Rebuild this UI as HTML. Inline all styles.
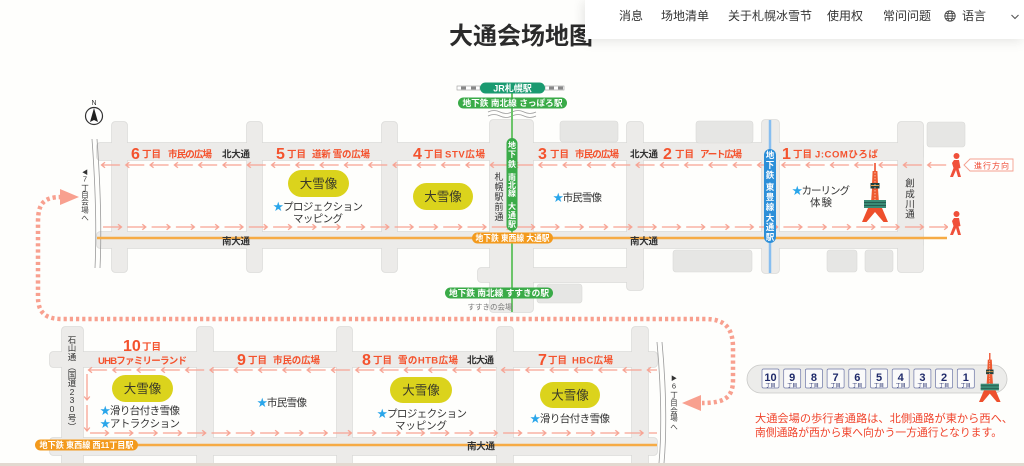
<!DOCTYPE html>
<html><head><meta charset="utf-8"><title>大通会场地图</title>
<style>
html,body{margin:0;padding:0}
body{width:1024px;height:466px;overflow:hidden;background:#fefefc;position:relative;font-family:"Liberation Sans","Noto Sans CJK JP",sans-serif}
svg{position:absolute;left:0;top:0}
#title{position:absolute;left:449px;top:21px;width:150px;height:34px;overflow:hidden;white-space:nowrap;font-size:24px;line-height:32px;font-weight:bold;color:#2b2b2b;font-family:"Liberation Sans","Noto Sans CJK SC",sans-serif}
#nav{position:absolute;left:585px;top:0;width:439px;height:39px;background:#fff;box-shadow:0 4px 12px rgba(0,0,0,.06),-4px 0 10px rgba(0,0,0,.05)}
#nav span{position:absolute;top:9px;font-size:12px;line-height:14px;color:#333;white-space:nowrap;font-family:"Liberation Sans","Noto Sans CJK SC",sans-serif}
.n{font-size:16px;fill:#f4522d;font-weight:bold}
.s{font-size:9.5px;fill:#f4522d;font-weight:bold}
.k{font-size:9.5px;fill:#333;font-weight:bold}
.d{font-size:10.5px;fill:#333}
.st{fill:#2aa6ea}
.w{fill:#fff;font-weight:bold}
.y{font-size:12.5px;fill:#3a3a2a}
</style></head><body>
<svg width="1024" height="466" viewBox="0 0 1024 466" font-family="'Liberation Sans','Noto Sans CJK JP',sans-serif">
<defs>
<pattern id="pl" width="24.3" height="8" patternUnits="userSpaceOnUse"><path d="M1.5 4H20M5 1.2L1.5 4L5 6.8" fill="none" stroke="#f7a393" stroke-width="1.3"/></pattern>
<pattern id="pr" width="24.3" height="8" patternUnits="userSpaceOnUse"><path d="M3 4H21.5M18 1.2L21.5 4L18 6.8" fill="none" stroke="#f7a393" stroke-width="1.3"/></pattern>
<pattern id="pd" width="8" height="31" patternUnits="userSpaceOnUse"><path d="M4 2V28M1.2 24.5L4 28L6.8 24.5" fill="none" stroke="#f7a393" stroke-width="1.3"/></pattern>
<g id="su">
<rect x="97" y="143" width="826" height="17" rx="3"/>
<rect x="97" y="232" width="826" height="16" rx="3"/>
<rect x="112" y="122" width="15" height="150" rx="3"/>
<rect x="247" y="122" width="15" height="150" rx="3"/>
<rect x="382" y="122" width="15" height="150" rx="3"/>
<rect x="490" y="120" width="43" height="192" rx="3"/>
<rect x="627" y="122" width="16" height="168" rx="3"/>
<rect x="762" y="120" width="17" height="153" rx="3"/>
<rect x="898" y="122" width="25" height="150" rx="3"/>
<rect x="478" y="268" width="165" height="14" rx="3"/>
</g>
<g id="sl">
<rect x="50" y="352" width="607" height="15" rx="3"/>
<rect x="50" y="438" width="607" height="17" rx="3"/>
<rect x="62" y="327" width="21" height="145" rx="3"/>
<rect x="197" y="327" width="16" height="145" rx="3"/>
<rect x="337" y="327" width="15" height="145" rx="3"/>
<rect x="497" y="327" width="16" height="145" rx="3"/>
<rect x="632" y="327" width="16" height="145" rx="3"/>
</g>
<g id="tw">
<line x1="13" y1="0" x2="13" y2="9" stroke="#ee4f2c" stroke-width="1.6"/>
<path d="M10.6 8H15.4L16 21H10Z" fill="#ee5a30"/>
<rect x="8.5" y="20" width="9" height="5.5" fill="#22403c"/>
<rect x="9" y="22" width="8" height="1" fill="#e9a34a"/>
<path d="M10 25.5H16L16.8 37H9.2Z" fill="#ee5a30"/>
<path d="M13 9V37" stroke="#fff" stroke-width="0.6" stroke-dasharray="1.5 1.5"/>
<rect x="2" y="37" width="22" height="8" fill="#3a8b75"/>
<path d="M2 39.5H24M2 42.5H24" stroke="#1f4f45" stroke-width="0.8"/>
<path d="M6 45H20L26 59H21.5L13 49L4.5 59H0Z" fill="#ee4f2c"/>
</g>
<g id="wk" fill="#f0503a">
<circle cx="6.5" cy="3" r="3"/>
<path d="M4 7H9L10.5 15L8.5 15.5L11 24H8L6 17L3 24H0L3.5 15L2 10Z"/>
</g>
</defs>

<!-- streets -->
<use href="#su" fill="#d9d9d7" stroke="#d9d9d7" stroke-width="1.5"/>
<use href="#su" fill="#ecebe9"/>
<use href="#sl" fill="#d9d9d7" stroke="#d9d9d7" stroke-width="1.5"/>
<use href="#sl" fill="#ecebe9"/>

<!-- buildings -->
<g fill="#e6e6e4" stroke="#d9d9d7" stroke-width="0.6">
<rect x="560" y="121" width="58" height="21" rx="3"/>
<rect x="696" y="121" width="57" height="22" rx="3"/>
<rect x="927" y="122" width="38" height="25" rx="3"/>
<rect x="673" y="250" width="79" height="22" rx="3"/>
<rect x="827" y="250" width="30" height="22" rx="3"/>
<rect x="865" y="250" width="28" height="22" rx="3"/>
<rect x="537" y="284" width="45" height="19" rx="3"/>
</g>

<!-- boundary lines -->
<g fill="none" stroke="#9a9a9a" stroke-width="0.8">
<path d="M92 139C95 180 97 225 95 268"/>
<path d="M97 139C100 180 102 225 100 268"/>
<path d="M657 342C661 385 662 430 659 463"/>
<path d="M662 342C666 385 667 430 664 463"/>
<path d="M488 112q6-3 12 0t12 0t12 0t12 0"/>
<path d="M488 116q6-3 12 0t12 0t12 0t12 0"/>
</g>

<!-- transit lines -->
<line x1="97" y1="238" x2="947" y2="238" stroke="#f6ab45" stroke-width="2.5"/>
<line x1="138" y1="445" x2="657" y2="445" stroke="#f6ab45" stroke-width="2.5"/>
<line x1="512" y1="93" x2="512" y2="312" stroke="#6cc46a" stroke-width="2"/>
<line x1="770" y1="120" x2="770" y2="273" stroke="#86bdf0" stroke-width="2.5"/>

<!-- rail icon -->
<g>
<rect x="457" y="86" width="23" height="4" fill="#fff" stroke="#9a9a9a" stroke-width="0.6"/>
<rect x="461" y="86.5" width="5" height="3" fill="#888"/><rect x="471" y="86.5" width="5" height="3" fill="#888"/>
<rect x="545" y="86" width="19" height="4" fill="#fff" stroke="#9a9a9a" stroke-width="0.6"/>
<rect x="549" y="86.5" width="5" height="3" fill="#888"/><rect x="558" y="86.5" width="5" height="3" fill="#888"/>
</g>

<!-- flow arrows -->
<rect x="0" y="0" width="848" height="8" fill="url(#pl)" transform="translate(100,161)"/>
<rect x="0" y="0" width="848" height="8" fill="url(#pr)" transform="translate(100,223)"/>
<rect x="0" y="0" width="570" height="8" fill="url(#pl)" transform="translate(87,366)"/>
<rect x="0" y="0" width="570" height="8" fill="url(#pr)" transform="translate(87,429)"/>
<rect x="0" y="0" width="8" height="62" fill="url(#pd)" transform="translate(83,372)"/>

<!-- dotted connector -->
<path d="M62 197C44 197 38 203 38 222L38 297C38 313 46 319 62 319L705 319C725 319 733 328 733 348L733 380C733 398 724 403 702 403" fill="none" stroke="#f8a08f" stroke-width="4.5" stroke-dasharray="3.2 3"/>
<polygon points="60,189 79,197 60,205" fill="#f8a08f"/>
<polygon points="701,395 682,403 701,411" fill="#f8a08f"/>

<!-- compass -->
<circle cx="94" cy="116" r="8.5" fill="#fff" stroke="#333" stroke-width="1.2"/>
<path d="M94 108L98 122L94 120L90 122Z" fill="#222"/>
<text x="94" y="105" font-size="7" text-anchor="middle" fill="#333">N</text>

<!-- subway pills -->
<rect x="480" y="82.5" width="65" height="11" rx="5.5" fill="#1a9a70"/>
<text x="512.5" y="91.3" text-anchor="middle" class="w" font-size="9">JR札幌駅</text>
<rect x="458" y="97.5" width="109" height="11" rx="5.5" fill="#3aab48"/>
<text x="512.5" y="106.2" text-anchor="middle" class="w" font-size="8.5" textLength="100" lengthAdjust="spacingAndGlyphs">地下鉄 南北線 さっぽろ駅</text>
<rect x="472" y="232.5" width="81" height="11" rx="5.5" fill="#f39a1d"/>
<text x="512.5" y="241.2" text-anchor="middle" class="w" font-size="8.5" textLength="74" lengthAdjust="spacingAndGlyphs">地下鉄 東西線 大通駅</text>
<rect x="445" y="287.5" width="108" height="11" rx="5.5" fill="#3aab48"/>
<text x="499" y="296.2" text-anchor="middle" class="w" font-size="8.5" textLength="100" lengthAdjust="spacingAndGlyphs">地下鉄 南北線 すすきの駅</text>
<text x="490" y="309.5" text-anchor="middle" font-size="7.5" fill="#777" textLength="45" lengthAdjust="spacingAndGlyphs">すすきの会場</text>
<rect x="35" y="439.5" width="103" height="11" rx="5.5" fill="#f39a1d"/>
<text x="86.5" y="448.2" text-anchor="middle" class="w" font-size="8.5" textLength="94" lengthAdjust="spacingAndGlyphs">地下鉄 東西線 西11丁目駅</text>

<!-- vertical green pill -->
<rect x="506.5" y="138" width="11" height="93" rx="5.5" fill="#3aab48"/>
<g class="w" font-size="8" text-anchor="middle">
<text x="512" y="148">地</text><text x="512" y="157">下</text><text x="512" y="167">鉄</text>
<text x="512" y="180">南</text><text x="512" y="188">北</text><text x="512" y="196">線</text>
<text x="512" y="209">大</text><text x="512" y="218">通</text><text x="512" y="227">駅</text>
</g>
<!-- vertical blue pill -->
<rect x="764" y="149" width="12" height="94" rx="6" fill="#2d8fd8"/>
<g class="w" font-size="8.5" text-anchor="middle">
<text x="770" y="158">地</text><text x="770" y="168">下</text><text x="770" y="178">鉄</text>
<text x="770" y="190">東</text><text x="770" y="200">豊</text><text x="770" y="210">線</text>
<text x="770" y="221">大</text><text x="770" y="230">通</text><text x="770" y="240">駅</text>
</g>

<!-- vertical street names -->
<g font-size="9" fill="#333" text-anchor="middle">
<text x="499" y="180">札</text><text x="499" y="190">幌</text><text x="499" y="200">駅</text><text x="499" y="210">前</text><text x="499" y="220">通</text>
</g>
<g font-size="9.5" fill="#333" text-anchor="middle">
<text x="910" y="186.5">創</text><text x="910" y="197.5">成</text><text x="910" y="207.5">川</text><text x="910" y="217.5">通</text>
</g>
<g font-size="7.5" fill="#333" text-anchor="middle">
<text x="85" y="174.5" font-size="6">◀</text><text x="85" y="181.7">7</text><text x="85" y="190.7">丁</text><text x="85" y="197.7">目</text><text x="85" y="204.7">会</text><text x="85" y="212.7">場</text><text x="85" y="220.7">へ</text>
<text x="674" y="380.5" font-size="6">▶</text><text x="674" y="388.7">6</text><text x="674" y="397.7">丁</text><text x="674" y="405.7">目</text><text x="674" y="413.7">会</text><text x="674" y="420.7">場</text><text x="674" y="429.7">へ</text>
</g>
<g font-size="8.5" fill="#333" text-anchor="middle">
<text x="72" y="343">石</text><text x="72" y="351">山</text><text x="72" y="360">通</text><text x="72" y="370">︵</text><text x="72" y="378">国</text><text x="72" y="386">道</text><text x="72" y="395">2</text><text x="72" y="403">3</text><text x="72" y="412">0</text><text x="72" y="421">号</text><text x="72" y="430">︶</text>
</g>

<!-- upper labels -->
<text x="131" y="159" class="n">6</text><text x="142" y="157.5" class="s">丁目</text><text x="168" y="157.5" class="s" textLength="44">市民の広場</text>
<text x="222" y="157.5" class="k" textLength="28">北大通</text>
<text x="276" y="159" class="n">5</text><text x="287" y="157.5" class="s">丁目</text><text x="312" y="157.5" class="s" textLength="58">道新 雪の広場</text>
<text x="413" y="159" class="n">4</text><text x="424" y="157.5" class="s">丁目</text><text x="445" y="157.5" class="s" textLength="40">STV広場</text>
<text x="538" y="159" class="n">3</text><text x="550" y="157.5" class="s">丁目</text><text x="575" y="157.5" class="s" textLength="44">市民の広場</text>
<text x="630" y="157.5" class="k" textLength="28">北大通</text>
<text x="663" y="159" class="n">2</text><text x="675" y="157.5" class="s">丁目</text><text x="700" y="157.5" class="s" textLength="42">アート広場</text>
<text x="782" y="159" class="n">1</text><text x="793" y="157.5" class="s">丁目</text><text x="815" y="157.5" class="s" textLength="63">J:COMひろば</text>
<text x="222" y="244.5" class="k" textLength="28">南大通</text>
<text x="630" y="244.5" class="k" textLength="28">南大通</text>

<!-- lower labels -->
<text x="123" y="351" class="n">10</text><text x="142" y="350" class="s">丁目</text>
<text x="98" y="364" class="s" textLength="89">UHBファミリーランド</text>
<text x="237" y="365" class="n">9</text><text x="248" y="363.5" class="s">丁目</text><text x="273" y="363.5" class="s" textLength="47">市民の広場</text>
<text x="362" y="365" class="n">8</text><text x="373" y="363.5" class="s">丁目</text><text x="398" y="363.5" class="s" textLength="60">雪のHTB広場</text>
<text x="467" y="363.5" class="k" textLength="27">北大通</text>
<text x="538" y="365" class="n">7</text><text x="548" y="363.5" class="s">丁目</text><text x="572" y="363.5" class="s" textLength="41">HBC広場</text>
<text x="467" y="449.5" class="k" textLength="28">南大通</text>

<!-- big snow statues -->
<g fill="#dbd31c">
<rect x="288" y="170" width="61" height="27" rx="13.5"/>
<rect x="413" y="183" width="60" height="27" rx="13.5"/>
<rect x="112" y="375" width="61" height="27" rx="13.5"/>
<rect x="390" y="377" width="62" height="26" rx="13"/>
<rect x="540" y="382" width="60" height="26" rx="13"/>
</g>
<g class="y" text-anchor="middle">
<text x="318.5" y="188">大雪像</text>
<text x="443" y="201">大雪像</text>
<text x="142.5" y="393">大雪像</text>
<text x="421" y="394.5">大雪像</text>
<text x="570" y="399.5">大雪像</text>
</g>

<!-- descriptions -->
<text x="273" y="210" class="d" textLength="90"><tspan class="st">★</tspan>プロジェクション</text>
<text x="293" y="222" class="d" textLength="50">マッピング</text>
<text x="553" y="201" class="d" font-size="11" textLength="49"><tspan class="st">★</tspan>市民雪像</text>
<text x="792" y="194" class="d" font-size="11" textLength="58"><tspan class="st">★</tspan>カーリング</text>
<text x="810" y="206" class="d" font-size="11" textLength="22">体験</text>
<text x="100" y="414" class="d" textLength="80"><tspan class="st">★</tspan>滑り台付き雪像</text>
<text x="100" y="427" class="d" textLength="80"><tspan class="st">★</tspan>アトラクション</text>
<text x="257" y="406" class="d" textLength="50"><tspan class="st">★</tspan>市民雪像</text>
<text x="377" y="417" class="d" textLength="90"><tspan class="st">★</tspan>プロジェクション</text>
<text x="395" y="429" class="d" textLength="52">マッピング</text>
<text x="530" y="422" class="d" textLength="80"><tspan class="st">★</tspan>滑り台付き雪像</text>

<!-- tower & walkers -->
<use href="#tw" transform="translate(862,163)"/>
<use href="#wk" transform="translate(950,153)"/>
<use href="#wk" transform="translate(950,211)"/>
<polygon points="964,165 970,159 1013,159 1013,171 970,171" fill="#fff" stroke="#f4a08f" stroke-width="0.9"/>
<text x="974" y="168.3" font-size="8" fill="#ef4b35" textLength="35">進行方向</text>

<!-- legend -->
<rect x="747" y="365" width="260" height="28" rx="14" fill="#ececea" stroke="#c9c9c7" stroke-width="0.8"/>
<g fill="#fafafa" stroke="#6d76a6" stroke-width="0.7">
<rect x="762" y="369" width="17" height="19" rx="1.5"/><rect x="783.7" y="369" width="17" height="19" rx="1.5"/><rect x="805.4" y="369" width="17" height="19" rx="1.5"/><rect x="827.1" y="369" width="17" height="19" rx="1.5"/><rect x="848.8" y="369" width="17" height="19" rx="1.5"/><rect x="870.5" y="369" width="17" height="19" rx="1.5"/><rect x="892.2" y="369" width="17" height="19" rx="1.5"/><rect x="913.9" y="369" width="17" height="19" rx="1.5"/><rect x="935.6" y="369" width="17" height="19" rx="1.5"/><rect x="957.3" y="369" width="17" height="19" rx="1.5"/>
</g>
<g font-size="11" font-weight="bold" fill="#1f2a6a" text-anchor="middle">
<text x="770.5" y="381">10</text><text x="792.2" y="381">9</text><text x="813.9" y="381">8</text><text x="835.6" y="381">7</text><text x="857.3" y="381">6</text><text x="879" y="381">5</text><text x="900.7" y="381">4</text><text x="922.4" y="381">3</text><text x="944.1" y="381">2</text><text x="965.8" y="381">1</text>
</g>
<g font-size="5" fill="#1f2a6a" text-anchor="middle">
<text x="770.5" y="387">丁目</text><text x="792.2" y="387">丁目</text><text x="813.9" y="387">丁目</text><text x="835.6" y="387">丁目</text><text x="857.3" y="387">丁目</text><text x="879" y="387">丁目</text><text x="900.7" y="387">丁目</text><text x="922.4" y="387">丁目</text><text x="944.1" y="387">丁目</text><text x="965.8" y="387">丁目</text>
</g>
<use href="#tw" transform="translate(979,353) scale(0.83)"/>

<text x="755" y="422" font-size="11" fill="#f0442c" textLength="258" lengthAdjust="spacingAndGlyphs">大通会場の歩行者通路は、北側通路が東から西へ、</text>
<text x="755" y="436" font-size="11" fill="#f0442c" textLength="247" lengthAdjust="spacingAndGlyphs">南側通路が西から東へ向かう一方通行となります。</text>

<rect x="0" y="463" width="1024" height="3" fill="#e2d9d0"/>
</svg>

<div id="title">大通会场地图</div>
<div id="nav">
<span style="left:34px">消息</span>
<span style="left:76px">场地清单</span>
<span style="left:143px">关于札幌冰雪节</span>
<span style="left:242px">使用权</span>
<span style="left:298px">常问问题</span>
<svg width="12" height="12" viewBox="0 0 12 12" style="position:absolute;left:359px;top:10px"><g fill="none" stroke="#444" stroke-width="0.9"><circle cx="6" cy="6" r="5.2"/><ellipse cx="6" cy="6" rx="2.3" ry="5.2"/><path d="M0.8 6H11.2M1.6 3.4H10.4M1.6 8.6H10.4"/></g></svg>
<span style="left:377px">语言</span>
<svg width="10" height="8" viewBox="0 0 10 8" style="position:absolute;left:425px;top:13px"><path d="M1.5 2L5 5.5L8.5 2" fill="none" stroke="#555" stroke-width="1.1"/></svg>
</div>
</body></html>
